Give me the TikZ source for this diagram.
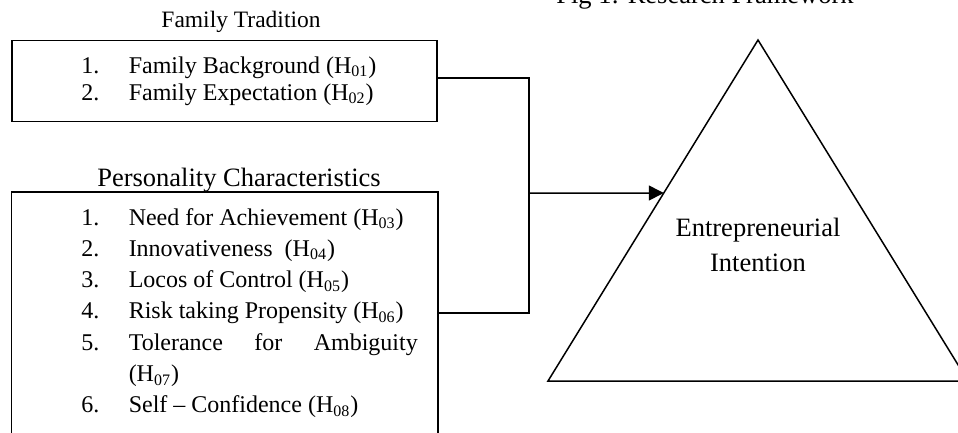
\documentclass[tikz,border=0pt]{standalone}
\usepackage{fontspec}
\setmainfont{Liberation Serif}
\usetikzlibrary{arrows.meta,calc}

\begin{document}
\begin{tikzpicture}[x=0.5pt,y=-0.5pt,line width=0.75pt,
  head/.style={anchor=base,inner sep=0pt,font=\fontsize{13.25}{17.5}\selectfont},
  subhead/.style={anchor=base,inner sep=0pt,font=\fontsize{11.75}{14}\selectfont},
  num/.style={anchor=base west,inner sep=0pt,font=\fontsize{12}{15}\selectfont},
  item/.style={anchor=base west,inner sep=0pt,font=\fontsize{12}{15}\selectfont},
  frame/.style={rectangle,inner sep=0pt,minimum width=212.5pt},
  arr/.style={-{Triangle[length=7.5pt,width=7.5pt]}}]
  \clip (0,0) rectangle (958,433);
  % title, cut at the top
  \node[head] (fig) at (705,3.5) {Fig 1: Research Framework};
  % family tradition
  \node[subhead] (famHead) at (241,28) {Family Tradition};
  \node[frame,draw,minimum height=40.5pt] (famBox) at (224.5,81.2) {};
  \node[num] (fn1) at (80.5,73.3) {1.};
  \node[item] (fi1) at (128,73.3) {Family Background (H\textsubscript{01})};
  \node[num] (fn2) at (80.5,100.3) {2.};
  \node[item] (fi2) at (128,100.3) {Family Expectation (H\textsubscript{02})};
  % personality characteristics (box runs off the bottom)
  \node[head] (persHead) at (239,186.7) {Personality Characteristics};
  \node[frame,minimum height=120.3pt] (persBox) at (224.5,313) {};
  \draw (persBox.south west) |- (persBox.north east) -- (persBox.south east);
  \foreach \lbl/\txt [count=\k from 0] in {1./{Need for Achievement (H\textsubscript{03})},
      2./{Innovativeness\ \ (H\textsubscript{04})},
      3./{Locos of Control (H\textsubscript{05})},
      4./{Risk taking Propensity (H\textsubscript{06})}}{
    \node[num] (pn\k) at (80.5,225+31.3*\k) {\lbl};
    \node[item] (pi\k) at (128,225+31.3*\k) {\txt};
  }
  \node[num] (pn4) at (80.5,350.2) {5.};
  \node[item] (pi4) at (128,350.2) {\makebox[144.5pt]{Tolerance\hfill for\hfill Ambiguity}};
  \node[item] (pi5) at (128,381.5) {(H\textsubscript{07})};
  \node[num] (pn6) at (80.5,412.8) {6.};
  \node[item] (pi6) at (128,412.8) {Self -- Confidence (H\textsubscript{08})};
  % entrepreneurial intention
  \coordinate (apex) at (758,40);
  \coordinate (baseL) at (548,381);
  \coordinate (baseR) at (968,381);
  \draw (apex) -- (baseL) -- (baseR) -- cycle;
  \node[align=center,inner sep=0pt,font=\fontsize{13.25}{17.5}\selectfont] (intent) at (758,245)
    {Entrepreneurial\\Intention};
  % connectors
  \coordinate (famOut) at ($(famBox.north east)!0.464!(famBox.south east)$);
  \coordinate (join) at (529,193);
  \coordinate (entry) at ($(apex)!0.4487!(baseL)$);
  \draw (famOut) -| (join) |- (persBox.east);
  \draw[arr] (join) -- (entry);
\end{tikzpicture}
\end{document}
